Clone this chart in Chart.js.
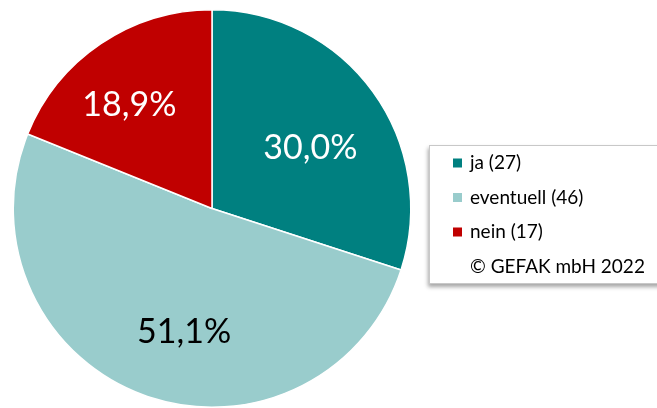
<!DOCTYPE html>
<html>
<head>
<meta charset="utf-8">
<script src="https://cdn.jsdelivr.net/npm/chart.js@4/dist/chart.umd.min.js"></script>
<style>
  html, body { margin: 0; padding: 0; background: #fff; overflow: hidden; }
  #wrap { position: relative; width: 657px; height: 408px; }
</style>
</head>
<body>
<div id="wrap"><canvas id="pieChart"></canvas></div>
<script>
// Daten
const categories = ['ja', 'eventuell', 'nein'];
const counts = [27, 46, 17];
const percentLabels = ['30,0%', '51,1%', '18,9%'];
const sliceColors = ['#008080', '#99CCCC', '#C00000'];
const labelColors = ['#FFFFFF', '#000000', '#FFFFFF'];
const copyright = '© GEFAK mbH 2022';

// Prozent-Labels im Segment
const sliceLabels = {
  id: 'sliceLabels',
  afterDatasetsDraw(chart) {
    const { ctx } = chart;
    const meta = chart.getDatasetMeta(0);
    const factors = [0.58, 0.635, 0.665];
    const shifts = [0.08, -0.126, -0.082];
    meta.data.forEach((arc, i) => {
      const p = arc.getProps(['x', 'y', 'startAngle', 'endAngle', 'outerRadius'], true);
      const mid = (p.startAngle + p.endAngle) / 2 + shifts[i];
      const r = p.outerRadius * factors[i];
      ctx.save();
      ctx.font = '34px Lato';
      ctx.fillStyle = labelColors[i];
      ctx.textAlign = 'center';
      ctx.textBaseline = 'middle';
      ctx.fillText(percentLabels[i], p.x + Math.cos(mid) * r, p.y + Math.sin(mid) * r);
      ctx.restore();
    });
  }
};

// Legende mit Rahmen und Schatten
const boxLegend = {
  id: 'boxLegend',
  afterDraw(chart) {
    const { ctx } = chart;
    const x = 429, y = 145, w = 240, h = 139;
    ctx.save();
    ctx.shadowColor = 'rgba(0,0,0,0.35)';
    ctx.shadowBlur = 4;
    ctx.shadowOffsetX = -1;
    ctx.shadowOffsetY = 3;
    ctx.fillStyle = '#fff';
    ctx.fillRect(x, y, w, h);
    ctx.restore();
    ctx.save();
    ctx.strokeStyle = '#C8C8C8';
    ctx.lineWidth = 1;
    ctx.strokeRect(x + 0.5, y + 0.5, w, h - 1);
    ctx.font = '19px Lato';
    ctx.textBaseline = 'middle';
    ctx.fillStyle = '#000';
    const rowY = [163, 197.5, 232, 267];
    categories.forEach((c, i) => {
      ctx.fillStyle = sliceColors[i];
      ctx.fillRect(453, rowY[i] - 4.5, 9, 9);
      ctx.fillStyle = '#000';
      ctx.fillText(c + ' (' + counts[i] + ')', 470, rowY[i]);
    });
    ctx.fillText(copyright, 470, rowY[3]);
    ctx.restore();
  }
};

new Chart(document.getElementById('pieChart'), {
  type: 'pie',
  data: {
    labels: categories,
    datasets: [{
      data: counts,
      backgroundColor: sliceColors,
      borderColor: '#fff',
      borderWidth: 1.5
    }]
  },
  options: {
    responsive: true,
    maintainAspectRatio: false,
    animation: false,
    layout: { padding: { top: 9, bottom: -1, left: 12, right: 245 } },
    plugins: {
      legend: { display: false },
      tooltip: { enabled: false }
    }
  },
  plugins: [sliceLabels, boxLegend]
});
</script>
</body>
</html>
